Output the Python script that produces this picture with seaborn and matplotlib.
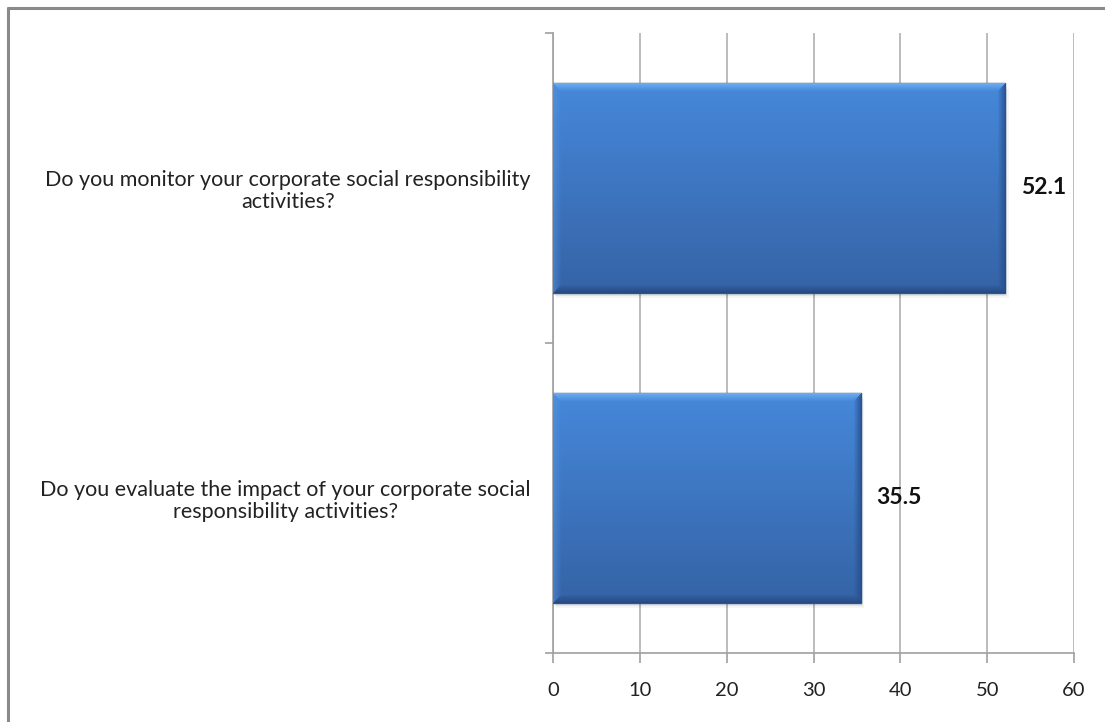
import numpy as np
import pandas as pd
import matplotlib
matplotlib.use("Agg")
import matplotlib.pyplot as plt
from matplotlib.lines import Line2D
import seaborn as sns

# Survey questions and the share of respondents answering yes (%)
questions = [
    "Do you monitor your corporate social responsibility\nactivities?",
    "Do you evaluate the impact of your corporate social\nresponsibility activities?",
]
values = [52.1, 35.5]
x_ticks = [0, 10, 20, 30, 40, 50, 60]

df = pd.DataFrame({"question": questions, "value": values})

sns.set_theme(style="white")
plt.rcParams["font.family"] = ["Lato", "DejaVu Sans"]

fig = plt.figure(figsize=(11.05, 7.22), dpi=100)
ax = fig.add_axes([553 / 1105, 1 - 653 / 722, (1074 - 553) / 1105, (653 - 33) / 722])

bar_h = 0.675
sns.barplot(data=df, x="value", y="question", orient="h", width=bar_h,
            color="#4283d4", ax=ax, zorder=3)

ax.set_xlim(0, 60)
ax.set_ylim(1.5, -0.5)
ax.set_xticks(x_ticks)
ax.set_xticklabels([str(t) for t in x_ticks], fontsize=14.5, color="#222222")
ax.set_xlabel("")
ax.set_ylabel("")

# vertical gridlines
ax.grid(axis="x", color="#b0b0b0", linewidth=1.2, zorder=0)
ax.grid(axis="y", visible=False)

for side in ["top", "right"]:
    ax.spines[side].set_visible(False)
for side in ["left", "bottom"]:
    ax.spines[side].set_color("#a0a0a0")
    ax.spines[side].set_linewidth(1.2)

ax.tick_params(axis="x", direction="out", length=7, width=1.2, color="#a0a0a0",
               pad=14, bottom=True)
ax.tick_params(axis="y", which="major", length=0, pad=16, labelsize=15.5,
               labelcolor="#222222")
for lbl in ax.get_yticklabels():
    lbl.set_multialignment("center")
    lbl.set_linespacing(1.15)
    lbl.set_y(lbl.get_position()[1])
ax.set_yticks([-0.5, 0.5, 1.5], minor=True)
ax.tick_params(axis="y", which="minor", direction="out", length=6, width=1.2,
               color="#a0a0a0", left=True)


def bevel_image(h, w):
    """Vertical blue gradient with beveled edges."""
    top = np.array([0x46, 0x88, 0xda]) / 255
    bot = np.array([0x35, 0x63, 0xa6]) / 255
    t = np.linspace(0, 1, h)[:, None, None]
    img = top * (1 - t) + bot * t
    img = np.repeat(img, w, axis=1)
    b = 8
    # top highlight
    hl = np.array([0x74, 0xb4, 0xf6]) / 255
    for i in range(b):
        a = 1 - i / b
        img[i, i:w - i] = img[i, i:w - i] * (1 - a * 0.8) + hl * a * 0.8
    # bottom shade
    sh = np.array([0x22, 0x45, 0x7a]) / 255
    for i in range(b):
        a = 1 - i / b
        img[h - 1 - i, i:w - i] = img[h - 1 - i, i:w - i] * (1 - a * 0.8) + sh * a * 0.8
    # right shade
    rs = np.array([0x25, 0x4c, 0x88]) / 255
    for i in range(b):
        a = 1 - i / b
        img[i:h - i, w - 1 - i] = img[i:h - i, w - 1 - i] * (1 - a * 0.85) + rs * a * 0.85
    # left light
    ls = np.array([0x55, 0x96, 0xe4]) / 255
    for i in range(b):
        a = 1 - i / b
        img[i:h - i, i] = img[i:h - i, i] * (1 - a * 0.5) + ls * a * 0.5
    return np.clip(img, 0, 1)


fig.canvas.draw()
for patch in list(ax.patches):
    x0, y0 = patch.get_x(), patch.get_y()
    w, h = patch.get_width(), patch.get_height()
    bb = patch.get_window_extent()
    pw, ph = max(int(bb.width), 2), max(int(bb.height), 2)
    # soft drop shadow
    for k, alpha in enumerate([0.10, 0.07, 0.04]):
        off = (k + 1) * 0.12
        sh = plt.Rectangle((x0 + off, y0 + 0.006 * (k + 1)), w, h,
                           facecolor="black", alpha=alpha, edgecolor="none", zorder=2)
        ax.add_patch(sh)
    im = ax.imshow(bevel_image(ph, pw), extent=(x0, x0 + w, y0 + h, y0),
                   aspect="auto", zorder=4, interpolation="bilinear")
    im.set_clip_path(patch)
    patch.set_edgecolor("#2b5690")
    patch.set_linewidth(1.0)

ax.set_xlim(0, 60)
ax.set_ylim(1.5, -0.5)

# value labels
for i, v in enumerate(values):
    ax.annotate(f"{v}", xy=(v, i), xytext=(11, 0), textcoords="offset points",
                ha="left", va="center", fontsize=16.5, fontweight="bold",
                color="#111111", zorder=5)

# outer frame lines
fig.add_artist(Line2D([8 / 1105, 8 / 1105], [0, 1 - 8 / 722], color="#8a8a8a",
                      linewidth=2.2, transform=fig.transFigure))
fig.add_artist(Line2D([8 / 1105, 1], [1 - 8 / 722, 1 - 8 / 722], color="#8a8a8a",
                      linewidth=2.2, transform=fig.transFigure))

fig.savefig("out.png", dpi=100)
